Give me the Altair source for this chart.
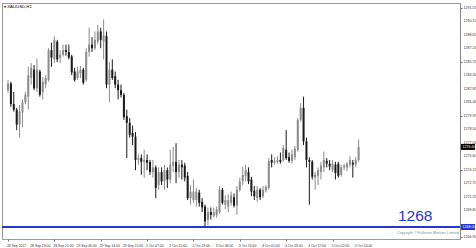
import altair as alt
import pandas as pd

# Hourly XAUUSD candles, 28 Sep 2017 05:00 .. 5 Oct 2017 11:00
opens = [1282.7,1283.4,1281.2,1280.6,1279.0,1280.3,1281.4,1282.0,1284.0,1284.9,
         1282.9,1284.7,1282.5,1283.3,1283.8,1287.0,1286.0,1287.9,1286.2,1286.5,
         1287.0,1286.8,1286.3,1284.7,1284.0,1284.5,1284.9,1283.8,1286.8,1287.6,
         1287.2,1287.9,1289.0,1287.9,1288.5,1283.3,1284.9,1284.2,1283.3,1282.7,
         1282.2,1279.9,1279.2,1278.1,1277.7,1275.2,1275.4,1275.0,1275.2,1275.0,
         1273.9,1274.4,1272.5,1273.9,1272.9,1274.1,1273.1,1274.6,1275.0,1273.9,
         1274.7,1274.6,1273.5,1271.1,1270.9,1270.9,1271.7,1270.7,1270.2,1268.8,
         1269.6,1269.2,1269.3,1269.6,1272.0,1270.4,1270.2,1270.6,1271.2,1270.3,
         1272.0,1272.9,1273.5,1273.9,1273.1,1271.9,1271.1,1272.0,1271.3,1271.9,
         1272.2,1275.2,1274.9,1275.0,1275.2,1275.2,1276.3,1275.5,1275.1,1275.5,
         1276.3,1279.5,1280.8,1277.2,1275.2,1275.0,1273.3,1273.5,1273.9,1274.4,
         1275.1,1274.8,1274.1,1274.7,1274.8,1273.6,1274.4,1274.4,1274.7,1274.9,
         1274.7,1275.2]
highs = [1283.8,1283.6,1282.5,1280.8,1281.1,1281.7,1282.5,1285.2,1285.6,1285.4,
         1286.1,1284.9,1284.1,1284.3,1287.2,1287.8,1288.5,1288.1,1287.0,1287.6,
         1287.6,1287.6,1286.5,1285.1,1285.2,1285.3,1285.1,1287.2,1289.4,1288.4,
         1289.0,1289.7,1289.4,1290.3,1289.0,1285.7,1286.0,1284.7,1283.8,1283.3,
         1282.4,1280.6,1279.7,1278.9,1278.2,1275.8,1275.8,1276.3,1275.8,1275.2,
         1275.2,1274.6,1274.4,1274.4,1274.7,1274.4,1276.3,1276.6,1277.0,1275.2,
         1275.2,1274.9,1273.9,1272.5,1273.1,1272.2,1272.0,1271.1,1270.4,1270.1,
         1270.1,1270.1,1270.2,1272.4,1272.2,1271.4,1271.5,1271.8,1271.6,1272.4,
         1273.3,1274.5,1274.7,1274.4,1273.4,1272.4,1272.4,1272.2,1272.4,1272.5,
         1275.4,1275.8,1275.5,1275.6,1276.0,1276.8,1278.4,1276.0,1276.3,1276.7,
         1279.7,1281.3,1282.0,1277.6,1275.5,1275.2,1273.9,1274.4,1275.0,1276.1,
         1275.4,1275.2,1275.2,1275.0,1275.0,1274.7,1274.8,1275.0,1275.6,1275.2,
         1275.5,1277.4]
lows = [1282.4,1280.9,1280.4,1278.4,1277.6,1278.7,1281.2,1280.6,1283.3,1282.7,
        1282.5,1282.0,1281.7,1282.9,1283.6,1285.2,1285.6,1285.7,1285.6,1286.3,
        1286.4,1286.0,1284.3,1283.6,1283.8,1284.0,1283.3,1283.6,1286.3,1286.8,
        1287.0,1287.6,1287.2,1286.0,1282.9,1281.4,1283.8,1282.9,1281.7,1281.9,
        1279.5,1275.4,1277.6,1276.8,1274.1,1274.7,1273.6,1273.3,1274.1,1273.6,
        1273.3,1271.1,1272.0,1272.5,1272.0,1272.2,1272.7,1273.9,1272.7,1273.3,
        1273.1,1272.9,1270.9,1270.4,1270.6,1270.2,1270.2,1269.6,1268.1,1268.2,
        1268.8,1269.0,1269.0,1269.4,1270.4,1269.9,1269.6,1270.3,1270.1,1269.3,
        1271.8,1272.5,1272.9,1272.6,1271.3,1270.9,1270.7,1270.9,1271.1,1271.7,
        1272.0,1274.4,1274.7,1274.8,1274.8,1275.0,1275.2,1274.9,1274.8,1275.2,
        1276.1,1279.3,1276.8,1274.4,1270.4,1273.1,1272.0,1272.5,1273.1,1273.9,
        1274.4,1274.1,1273.9,1273.1,1273.3,1273.4,1274.1,1274.0,1274.4,1273.3,
        1274.4,1275.0]
closes = [1283.4,1281.2,1280.6,1279.0,1280.4,1281.4,1282.2,1284.3,1285.1,1282.9,
          1284.9,1282.2,1283.6,1284.0,1287.0,1286.2,1288.1,1286.0,1286.5,1287.0,
          1286.8,1286.2,1284.6,1283.8,1284.7,1284.9,1283.5,1286.8,1287.6,1287.2,
          1288.1,1289.0,1288.1,1288.6,1283.3,1284.9,1284.0,1283.3,1282.7,1282.2,
          1279.8,1279.2,1277.9,1277.7,1275.2,1275.4,1275.0,1275.2,1274.9,1273.9,
          1274.4,1272.2,1273.9,1272.9,1274.1,1273.1,1274.7,1275.0,1273.9,1274.7,
          1274.4,1273.3,1271.1,1271.8,1271.8,1271.8,1270.6,1270.1,1268.6,1269.6,
          1269.3,1269.6,1269.9,1272.0,1270.6,1270.9,1270.9,1271.4,1270.3,1272.0,
          1272.9,1273.6,1274.1,1272.9,1271.8,1271.3,1272.0,1271.2,1272.0,1272.3,
          1275.1,1274.9,1275.1,1275.2,1275.0,1276.5,1275.4,1275.1,1275.8,1276.4,
          1279.5,1280.8,1277.2,1275.2,1275.0,1273.4,1273.6,1274.1,1274.6,1275.2,
          1274.8,1274.5,1274.8,1273.8,1273.5,1274.4,1274.6,1274.8,1275.2,1274.7,
          1275.2,1276.6]

x_labels = ["28 Sep 2017", "28 Sep 13:00", "28 Sep 21:00", "29 Sep 06:00",
            "29 Sep 14:00", "29 Sep 22:00", "2 Oct 07:00", "2 Oct 15:00",
            "2 Oct 23:00", "3 Oct 08:00", "3 Oct 16:00", "4 Oct 01:00",
            "4 Oct 09:00", "4 Oct 17:00", "5 Oct 02:00", "5 Oct 10:00"]
x_label_bars = [0, 8, 16, 24, 32, 40, 48, 56, 64, 72, 80, 88, 96, 104, 112, 120]
y_ticks = [1291.55, 1290.10, 1288.65, 1287.20, 1285.75, 1284.30, 1282.85,
           1281.40, 1279.95, 1278.50, 1277.05, 1275.60, 1274.15, 1272.70,
           1271.25, 1269.80, 1266.90]

level_price = [1268.00]
level_text = ["1268"]
symbol_text = ["\u25BE XAUUSD,H1"]
copyright_text = ["Copyright \u00A9 Fullerton Markets Limited"]

df = pd.DataFrame({"i": list(range(len(opens))), "open": opens, "high": highs,
                   "low": lows, "close": closes})
df["dir"] = ["up" if c >= o else "down" for o, c in zip(opens, closes)]

xs = alt.Scale(domain=[-0.34, 154.26], nice=False, zero=False)
ys = alt.Scale(domain=[1266.71, 1292.06], nice=False, zero=False)
col = alt.Scale(domain=["up", "down"], range=["#a6a6a6", "#000000"])
wcol = alt.Scale(domain=["up", "down"], range=["#8c8c8c", "#1a1a1a"])

FONT = "Liberation Sans"
XLBL = 3.4
YLBL = 3.6

x_axis = alt.Axis(values=x_label_bars, labels=False, tickSize=2,
                  tickColor="#777777", domain=False, grid=False, title=None)
y_axis = alt.Axis(orient="right", values=y_ticks, labels=False, tickSize=2,
                  tickColor="#777777", domainColor="#888888", grid=False,
                  title=None)

base = alt.Chart(df)
wicks = base.mark_rule(strokeWidth=1).encode(
    x=alt.X("i:Q", scale=xs, axis=x_axis),
    y=alt.Y("low:Q", scale=ys, axis=y_axis),
    y2="high:Q",
    color=alt.Color("dir:N", scale=wcol, legend=None),
)
bodies = base.mark_bar(size=2).encode(
    x=alt.X("i:Q", scale=xs),
    y=alt.Y("open:Q", scale=ys),
    y2="close:Q",
    color=alt.Color("dir:N", scale=col, legend=None),
)

xl_df = pd.DataFrame({"i": x_label_bars, "t": x_labels})
x_text = alt.Chart(xl_df).mark_text(
    align="left", baseline="top", fontSize=XLBL, color="#333333", font=FONT,
    dx=-1).encode(x=alt.X("i:Q", scale=xs), y=alt.value(240.5), text="t:N")

yl_df = pd.DataFrame({"p": y_ticks, "t": ["%.2f" % v for v in y_ticks]})
y_text = alt.Chart(yl_df).mark_text(
    align="left", baseline="middle", fontSize=YLBL, color="#333333",
    font=FONT).encode(y=alt.Y("p:Q", scale=ys), x=alt.value(461.5), text="t:N")

lvl_df = pd.DataFrame({"p": level_price, "t": level_text,
                       "lbl": ["%.2f" % v for v in level_price]})
level_line = alt.Chart(lvl_df).mark_rule(color="#2236d6", strokeWidth=2).encode(
    y=alt.Y("p:Q", scale=ys), x=alt.value(0), x2=alt.value(458))
level_box = alt.Chart(lvl_df).mark_rule(color="#2236d6", strokeWidth=6).encode(
    y=alt.Y("p:Q", scale=ys), x=alt.value(459), x2=alt.value(473))
level_box_txt = alt.Chart(lvl_df).mark_text(
    align="left", baseline="middle", fontSize=YLBL, color="white",
    font=FONT).encode(y=alt.Y("p:Q", scale=ys), x=alt.value(460.5), text="lbl:N")
level_big = alt.Chart(lvl_df).mark_text(
    align="left", baseline="bottom", fontSize=15.5, color="#2236d6", dy=-3,
    font="Liberation Sans").encode(
    y=alt.Y("p:Q", scale=ys), x=alt.value(396), text="t:N")

last_df = pd.DataFrame({"p": [closes[-1]], "lbl": ["%.2f" % closes[-1]]})
last_box = alt.Chart(last_df).mark_rule(color="#000000", strokeWidth=6).encode(
    y=alt.Y("p:Q", scale=ys), x=alt.value(459), x2=alt.value(473))
last_txt = alt.Chart(last_df).mark_text(
    align="left", baseline="middle", fontSize=YLBL, color="white",
    font=FONT).encode(y=alt.Y("p:Q", scale=ys), x=alt.value(460.5), text="lbl:N")

sym = alt.Chart(pd.DataFrame({"t": symbol_text})).mark_text(
    align="left", baseline="middle", fontSize=4.3, color="#000000",
    font=FONT).encode(x=alt.value(2), y=alt.value(4), text="t:N")
copy = alt.Chart(pd.DataFrame({"t": copyright_text})).mark_text(
    align="right", baseline="middle", fontSize=3.7, color="#8a8a8a",
    font=FONT).encode(x=alt.value(457), y=alt.value(230), text="t:N")

chart = alt.layer(wicks, bodies, level_line, x_text, y_text, level_box,
                  level_box_txt, level_big, last_box, last_txt, sym,
                  copy).properties(
    width=458, height=236,
    padding={"left": 2, "top": 3, "right": 16, "bottom": 9},
    autosize="none",
    background="white",
).configure_view(stroke="#9a9a9a", strokeWidth=1)

chart.save("out.html", embed_options={"renderer": "svg", "actions": False})
